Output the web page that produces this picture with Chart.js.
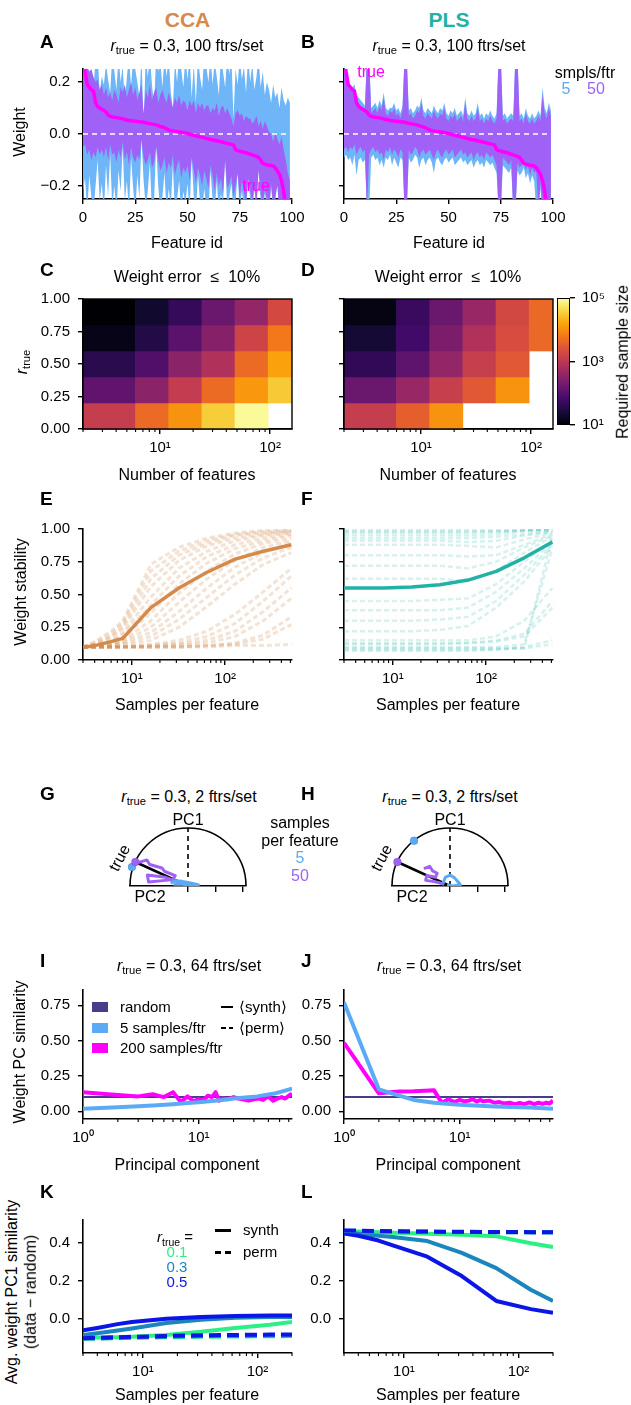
<!DOCTYPE html>
<html><head><meta charset="utf-8">
<script src="https://cdn.jsdelivr.net/npm/chart.js@4.4.1/dist/chart.umd.min.js"></script>
<style>
html,body{margin:0;padding:0;background:#fff;}
#fig{position:relative;width:631px;height:1405px;overflow:hidden;font-family:"Liberation Sans",Arial,Helvetica,sans-serif;color:#000;}
#fig .t{position:absolute;white-space:nowrap;line-height:1.15;}
#fig sub{font-size:0.7em;vertical-align:-0.3em;line-height:0;}
canvas{position:absolute;}
</style></head><body><div id="fig"></div>
<script>
// ---------------- DATA ----------------
const featureIds = Array.from({length:100}, (_, i) => i);
const trueWeights = [0.30,0.24,0.19,0.18,0.17,0.165,0.12,0.105,0.10,0.095,
0.09,0.085,0.072,0.068,0.066,0.064,0.063,0.062,0.060,0.058,
0.056,0.054,0.052,0.051,0.050,0.049,0.048,0.047,0.046,0.045,
0.043,0.041,0.039,0.038,0.037,0.035,0.032,0.029,0.027,0.024,
0.020,0.016,0.013,0.012,0.010,0.009,0.008,0.007,0.006,0.004,
0.002,0.000,-0.003,-0.005,-0.007,-0.009,-0.011,-0.013,-0.015,-0.017,
-0.019,-0.021,-0.022,-0.024,-0.026,-0.028,-0.030,-0.032,-0.034,-0.036,
-0.038,-0.040,-0.042,-0.060,-0.064,-0.066,-0.068,-0.070,-0.072,-0.075,
-0.078,-0.080,-0.083,-0.086,-0.090,-0.100,-0.113,-0.116,-0.118,-0.120,
-0.121,-0.123,-0.130,-0.142,-0.155,-0.18,-0.22,-0.28,-0.35,-0.42];
const blueHiA = [0.30,0.22,0.15,0.14,0.24,0.18,0.28,0.30,0.16,0.22,
0.19,0.27,0.21,0.16,0.30,0.24,0.17,0.30,0.20,0.26,
0.12,0.22,0.30,0.18,0.30,0.25,0.20,0.14,0.30,0.03,
0.30,0.22,0.30,0.19,0.11,0.30,0.24,0.28,0.18,0.30,
0.22,0.30,0.16,0.10,0.28,0.20,0.30,0.25,0.18,0.30,
0.21,0.30,0.14,0.27,0.12,0.30,0.22,0.17,0.30,0.26,
0.20,0.30,0.19,0.28,0.22,0.15,0.30,0.24,0.18,0.30,
0.23,0.30,0.06,0.25,0.19,0.30,0.21,0.26,0.16,0.30,
0.20,0.27,0.17,0.22,0.30,0.18,0.24,0.15,0.20,0.17,
0.12,0.19,0.14,0.16,0.10,0.18,0.13,0.11,0.14,0.12];
const blueLoA = [-0.22,-0.17,-0.30,-0.16,-0.24,-0.30,-0.20,-0.10,-0.26,-0.19,
-0.30,-0.12,-0.24,-0.08,-0.28,-0.20,-0.30,-0.14,-0.22,-0.05,
-0.26,-0.18,-0.30,-0.09,-0.21,-0.30,-0.16,-0.25,-0.02,-0.18,
-0.28,-0.22,-0.11,-0.30,-0.26,-0.04,-0.20,-0.30,-0.24,-0.15,
-0.30,-0.21,-0.28,-0.12,-0.30,-0.25,-0.18,-0.30,-0.22,-0.27,
-0.19,-0.30,-0.09,-0.24,-0.30,-0.16,-0.26,-0.30,-0.21,-0.28,
-0.30,-0.14,-0.25,-0.30,-0.18,-0.30,-0.23,-0.27,-0.08,-0.30,
-0.24,-0.19,-0.30,-0.26,-0.15,-0.30,-0.22,-0.28,-0.30,-0.17,
-0.25,-0.30,-0.21,-0.30,-0.10,-0.26,-0.30,-0.23,-0.28,-0.30,
-0.20,-0.30,-0.26,-0.18,-0.30,-0.24,-0.30,-0.30,-0.28,-0.30];
const purpHiA = [0.30,0.28,0.26,0.24,0.25,0.22,0.20,0.21,0.17,0.19,
0.15,0.18,0.14,0.16,0.13,0.17,0.15,0.12,0.18,0.16,
0.19,0.14,0.17,0.20,0.15,0.18,0.13,0.16,0.19,0.08,
0.17,0.14,0.19,0.13,0.16,0.18,0.12,0.15,0.17,0.14,
0.12,0.16,0.13,0.10,0.14,0.12,0.15,0.11,0.13,0.12,
0.09,0.13,0.11,0.13,0.08,0.12,0.10,0.12,0.09,0.11,
0.11,0.08,0.10,0.09,0.12,0.07,0.10,0.11,0.08,0.10,
0.08,0.06,0.03,0.08,0.09,0.07,0.08,0.05,0.07,0.06,
0.06,0.04,0.05,0.07,0.03,0.05,0.02,0.05,0.03,0.01,
0.00,-0.03,0.01,-0.02,-0.04,-0.01,-0.06,-0.10,-0.15,-0.18];
const purpLoA = [-0.05,-0.04,-0.08,-0.06,-0.10,-0.07,-0.09,-0.05,-0.08,-0.06,
-0.09,-0.05,-0.10,-0.04,-0.08,-0.07,-0.11,-0.06,-0.09,-0.03,
-0.10,-0.07,-0.12,-0.05,-0.09,-0.11,-0.08,-0.10,-0.02,-0.09,
-0.12,-0.10,-0.07,-0.13,-0.11,-0.05,-0.10,-0.14,-0.12,-0.09,
-0.15,-0.11,-0.13,-0.08,-0.16,-0.12,-0.10,-0.17,-0.13,-0.15,
-0.12,-0.18,-0.09,-0.14,-0.19,-0.13,-0.16,-0.20,-0.14,-0.17,
-0.21,-0.12,-0.16,-0.22,-0.15,-0.20,-0.17,-0.23,-0.10,-0.21,
-0.19,-0.16,-0.24,-0.20,-0.15,-0.25,-0.18,-0.22,-0.27,-0.17,
-0.22,-0.26,-0.20,-0.28,-0.14,-0.23,-0.27,-0.21,-0.25,-0.30,
-0.19,-0.28,-0.24,-0.20,-0.30,-0.26,-0.30,-0.35,-0.40,-0.45];
const blueHiB = [0.30,0.24,0.20,0.19,0.18,0.19,0.15,0.14,0.13,0.12,
0.11,0.30,0.30,0.10,0.11,0.12,0.10,0.13,0.11,0.16,
0.10,0.09,0.10,0.10,0.12,0.09,0.10,0.08,0.11,0.30,
0.30,0.09,0.10,0.08,0.09,0.11,0.10,0.14,0.09,0.08,
0.10,0.09,0.08,0.11,0.09,0.08,0.10,0.09,0.12,0.08,
0.07,0.09,0.08,0.10,0.07,0.08,0.09,0.07,0.14,0.08,
0.07,0.09,0.07,0.08,0.12,0.07,0.08,0.06,0.08,0.07,
0.09,0.07,0.06,0.08,0.30,0.30,0.07,0.08,0.06,0.07,
0.08,0.07,0.30,0.30,0.07,0.08,0.06,0.10,0.07,0.06,
0.08,0.06,0.07,0.09,0.07,0.18,0.10,0.08,0.12,0.09];
const blueLoB = [-0.09,-0.08,-0.10,-0.09,-0.12,-0.08,-0.16,-0.10,-0.09,-0.11,
-0.10,-0.30,-0.30,-0.09,-0.08,-0.10,-0.09,-0.12,-0.10,-0.13,
-0.09,-0.10,-0.08,-0.12,-0.09,-0.11,-0.13,-0.09,-0.10,-0.30,
-0.30,-0.09,-0.11,-0.10,-0.08,-0.09,-0.13,-0.10,-0.09,-0.12,
-0.10,-0.09,-0.11,-0.15,-0.10,-0.09,-0.11,-0.12,-0.10,-0.09,
-0.11,-0.10,-0.09,-0.12,-0.11,-0.10,-0.09,-0.11,-0.10,-0.12,
-0.11,-0.10,-0.13,-0.11,-0.10,-0.12,-0.11,-0.13,-0.10,-0.11,
-0.12,-0.11,-0.13,-0.15,-0.30,-0.30,-0.12,-0.13,-0.14,-0.15,
-0.13,-0.30,-0.30,-0.14,-0.16,-0.15,-0.13,-0.17,-0.15,-0.19,
-0.16,-0.18,-0.30,-0.30,-0.21,-0.30,-0.30,-0.35,-0.40,-0.45];
const purpHiB = [0.30,0.22,0.18,0.17,0.16,0.17,0.13,0.12,0.11,0.10,
0.09,0.30,0.30,0.08,0.09,0.10,0.08,0.11,0.09,0.14,
0.08,0.07,0.09,0.08,0.10,0.07,0.08,0.06,0.09,0.30,
0.30,0.07,0.08,0.06,0.07,0.09,0.08,0.12,0.07,0.06,
0.08,0.07,0.06,0.09,0.07,0.06,0.08,0.07,0.10,0.06,
0.05,0.07,0.06,0.08,0.05,0.06,0.07,0.05,0.12,0.06,
0.05,0.07,0.05,0.06,0.10,0.05,0.06,0.04,0.06,0.05,
0.07,0.05,0.04,0.06,0.30,0.30,0.05,0.06,0.04,0.05,
0.06,0.05,0.30,0.30,0.05,0.06,0.04,0.08,0.05,0.04,
0.06,0.04,0.05,0.07,0.05,0.15,0.08,0.06,0.10,0.07];
const purpLoB = [-0.06,-0.05,-0.07,-0.05,-0.06,-0.04,-0.08,-0.06,-0.05,-0.07,
-0.06,-0.30,-0.08,-0.06,-0.05,-0.07,-0.06,-0.08,-0.07,-0.10,
-0.06,-0.07,-0.05,-0.08,-0.06,-0.07,-0.09,-0.06,-0.07,-0.30,
-0.30,-0.06,-0.08,-0.07,-0.05,-0.06,-0.09,-0.07,-0.06,-0.08,
-0.07,-0.06,-0.08,-0.10,-0.07,-0.06,-0.08,-0.09,-0.07,-0.06,
-0.08,-0.07,-0.06,-0.09,-0.08,-0.07,-0.06,-0.08,-0.07,-0.09,
-0.08,-0.07,-0.10,-0.08,-0.07,-0.09,-0.08,-0.10,-0.07,-0.08,
-0.09,-0.08,-0.10,-0.12,-0.30,-0.30,-0.09,-0.10,-0.11,-0.12,
-0.10,-0.30,-0.30,-0.11,-0.13,-0.12,-0.10,-0.14,-0.12,-0.16,
-0.13,-0.15,-0.14,-0.30,-0.18,-0.30,-0.30,-0.35,-0.40,-0.45];

// heatmaps (rows bottom->top = r_true 0.1 ... 0.9), required sample size
const rTrueRows = [0.1, 0.3, 0.5, 0.7, 0.9];
const featEdges = [2, 6, 12, 24, 48, 96, 158];
const reqCCA = [
  [1300, 4500, 11000, 33000, 90000, null],
  [130, 330, 1200, 4600, 12000, 31000],
  [38, 91, 330, 760, 4600, 14500],
  [14, 33, 110, 300, 1600, 6300],
  [10, 21, 48, 158, 400, 1900]];
const reqPLS = [
  [1300, 3500, 11000, null, null, null],
  [158, 440, 1330, 3000, 11000, null],
  [44, 120, 400, 1330, 3000, null],
  [24, 63, 230, 760, 2100, 4400],
  [13, 52, 158, 440, 1800, 4400]];

// weight stability
const sppX = [3, 4, 6, 8, 16, 32, 64, 128, 256, 512];
const stabCCA = [0.095, 0.11, 0.14, 0.165, 0.40, 0.55, 0.67, 0.77, 0.83, 0.88];
const stabPLS = [0.55, 0.55, 0.55, 0.55, 0.557, 0.575, 0.61, 0.676, 0.78, 0.90];
const stabCCAruns = [
[.10,.14,.22,.30,.73,.86,.93,.97,.99,.99],
[.10,.13,.20,.28,.68,.83,.91,.96,.98,.99],
[.10,.12,.18,.26,.62,.80,.89,.95,.97,.98],
[.10,.12,.17,.24,.56,.76,.87,.93,.96,.98],
[.10,.11,.15,.21,.48,.70,.83,.91,.95,.97],
[.10,.11,.14,.19,.42,.64,.79,.88,.93,.96],
[.10,.11,.13,.17,.36,.58,.74,.85,.91,.95],
[.10,.10,.12,.15,.30,.51,.68,.81,.89,.93],
[.10,.10,.12,.14,.25,.44,.62,.76,.86,.91],
[.10,.10,.11,.13,.21,.37,.55,.71,.82,.89],
[.10,.10,.11,.12,.18,.31,.48,.65,.78,.86],
[.10,.10,.10,.11,.15,.25,.41,.58,.73,.82],
[.10,.10,.10,.10,.12,.15,.22,.35,.52,.70],
[.10,.10,.10,.10,.11,.13,.18,.28,.45,.64],
[.10,.10,.10,.10,.11,.12,.15,.22,.37,.55],
[.10,.10,.10,.10,.10,.11,.13,.18,.30,.47],
[.10,.10,.10,.10,.10,.10,.11,.13,.19,.33],
[.10,.10,.10,.10,.10,.10,.11,.12,.16,.27],
[.10,.10,.10,.10,.10,.10,.10,.11,.11,.12]];
const stabPLSruns = [
[.99,.99,.99,.99,.99,.99,.99,.99,.99,1.0],
[.98,.98,.98,.98,.98,.98,.98,.98,.99,1.0],
[.97,.97,.97,.97,.97,.97,.97,.98,.99,.99],
[.95,.95,.95,.95,.95,.95,.95,.96,.98,.99],
[.93,.93,.93,.93,.93,.93,.93,.94,.96,.98],
[.91,.91,.91,.91,.91,.91,.90,.91,.95,.98],
[.88,.88,.88,.88,.88,.88,.87,.86,.92,.97],
[.80,.80,.80,.80,.80,.80,.79,.80,.88,.96],
[.72,.72,.72,.72,.72,.72,.70,.75,.86,.95],
[.62,.62,.62,.62,.62,.62,.60,.68,.82,.94],
[.45,.45,.45,.45,.45,.46,.47,.58,.75,.92],
[.38,.38,.38,.38,.38,.38,.40,.52,.70,.90],
[.30,.30,.30,.30,.30,.31,.33,.45,.65,.88],
[.22,.22,.22,.22,.22,.23,.26,.40,.60,.86],
[.15,.15,.15,.15,.15,.15,.15,.18,.30,.55],
[.13,.13,.13,.13,.13,.13,.13,.14,.18,.40],
[.12,.12,.12,.12,.12,.12,.13,.15,.20,.45],
[.10,.10,.10,.10,.10,.10,.10,.10,.12,.85],
[.09,.09,.09,.09,.09,.09,.09,.09,.09,.95],
[.08,.08,.08,.08,.08,.08,.08,.08,.10,.15],
[.07,.07,.07,.07,.07,.07,.07,.08,.09,.12]];

// 2-feature semicircle (unit circle coords: x = PC2 side negative, y = PC1)
const trueDirG = [-0.907, 0.414];
const start5G = [-0.966, 0.328];
const path50G = [[-0.90,0.39],[-0.71,0.45],[-0.66,0.37],[-0.45,0.31],[-0.40,0.25],[-0.22,0.18],[-0.26,0.11],[-0.68,0.07],[-0.70,0.19],[-0.39,0.15],[-0.16,0.07],[-0.02,0.02]];
const path5G = [[-0.30,0.05],[-0.22,0.09],[-0.10,0.08],[0.00,0.06],[0.10,0.04],[0.18,0.02],[0.06,0.01],[-0.10,0.03],[-0.25,0.03]];
const trueDirH = [-0.907, 0.414];
const start5H = [-0.62, 0.78];
const path50H = [[-0.45,0.30],[-0.35,0.34],[-0.30,0.26],[-0.22,0.22],[-0.25,0.15],[-0.40,0.18],[-0.42,0.10],[-0.30,0.08],[-0.20,0.06],[-0.10,0.03]];
const path5H = [[-0.12,0.05],[-0.08,0.15],[0.00,0.19],[0.08,0.14],[0.14,0.07],[0.18,0.02],[0.05,0.00],[-0.05,0.02]];

// PC similarity
const randomLevel = 0.1;
const pcRange = [1, 64];
const iMagX = [1,2,3,4,5,6,7,8,9,10,11,12,13,14,15,16,18,20,22,24,27,30,33,36,40,44,48,52,56,60,64];
const iMag = [0.135,0.115,0.105,0.12,0.10,0.135,0.065,0.105,0.07,0.085,0.075,0.11,0.10,0.135,0.075,0.09,0.085,0.10,0.09,0.085,0.075,0.085,0.09,0.08,0.105,0.075,0.09,0.10,0.09,0.11,0.125];
const iBlueX = [1,2,3,4,6,8,10,16,20,32,45,64];
const iBlue = [0.018,0.028,0.035,0.04,0.05,0.058,0.064,0.08,0.09,0.105,0.125,0.16];
const jBlueX = [1,2,3,4,6,10,20,40,64];
const jBlue = [0.77,0.155,0.11,0.08,0.06,0.045,0.034,0.027,0.018];
const jMagX = [1,2,3,4,5,6,7,8,9,10,11,12,13,14,15,16,18,20,22,24,27,30,33,36,40,44,48,52,56,60,64];
const jMag = [0.484,0.127,0.139,0.141,0.145,0.148,0.06,0.085,0.065,0.08,0.07,0.075,0.085,0.068,0.08,0.07,0.075,0.06,0.065,0.055,0.06,0.05,0.058,0.05,0.062,0.05,0.06,0.052,0.06,0.055,0.075];

// PC1 similarity (data - random)
const kX = [3, 4, 6, 8, 16, 32, 64, 128, 200];
const kSynth01 = [-0.099,-0.099,-0.097,-0.095,-0.085,-0.068,-0.048,-0.031,-0.017];
const kSynth03 = [-0.085,-0.076,-0.062,-0.051,-0.022,-0.005,0.005,0.009,0.010];
const kSynth05 = [-0.061,-0.048,-0.028,-0.017,0.000,0.009,0.015,0.017,0.017];
const kPerm01 = [-0.105,-0.104,-0.102,-0.100,-0.097,-0.095,-0.093,-0.092,-0.091];
const kPerm03 = [-0.104,-0.103,-0.100,-0.098,-0.094,-0.091,-0.089,-0.088,-0.087];
const kPerm05 = [-0.102,-0.100,-0.097,-0.095,-0.090,-0.087,-0.085,-0.083,-0.082];
const lSynth01 = [0.462,0.460,0.456,0.453,0.447,0.442,0.434,0.398,0.378];
const lSynth03 = [0.455,0.448,0.437,0.430,0.409,0.347,0.267,0.153,0.094];
const lSynth05 = [0.449,0.437,0.412,0.386,0.327,0.225,0.094,0.051,0.032];
const lPerm01 = [0.462,0.461,0.460,0.459,0.458,0.457,0.456,0.455,0.455];
const lPerm03 = [0.463,0.462,0.461,0.460,0.458,0.457,0.456,0.455,0.455];
const lPerm05 = [0.465,0.464,0.462,0.461,0.459,0.458,0.457,0.456,0.456];

// ---------------- STYLE ----------------
const C_CCA = '#d38a4c', C_PLS = '#22b2a5';
const C_B5 = '#6fb6f8', C_P50 = '#a062f6', C_TRUE = '#ff00ff';
const C_BL = '#5aaaf5', C_RND = '#483d8b';
const C_R1 = '#2cef86', C_R3 = '#1b86bd', C_R5 = '#0b15e6';
const FONT = '"Liberation Sans", Arial, Helvetica, sans-serif';
const INFERNO = ['#000004','#160b39','#420a68','#6a176e','#932667','#bc3754','#dd513a','#f37819','#fca50a','#f6d746','#fcffa4'];
function hex(h){return [1,3,5].map(i=>parseInt(h.substr(i,2),16));}
function inferno(t){t=Math.max(0,Math.min(1,t));const p=t*10,i=Math.min(9,Math.floor(p)),f=p-i;const a=hex(INFERNO[i]),b=hex(INFERNO[i+1]);return 'rgb('+a.map((v,k)=>Math.round(v+(b[k]-v)*f)).join(',')+')';}

Chart.defaults.font.family = FONT;
Chart.defaults.font.size = 15;
Chart.defaults.color = '#000';
Chart.defaults.animation = false;
Chart.defaults.plugins.legend.display = false;
Chart.defaults.plugins.tooltip.enabled = false;
Chart.defaults.elements.point.radius = 0;
Chart.defaults.elements.line.tension = 0;

const fig = document.getElementById('fig');
const decoMap = new Map();
Chart.register({
  id: 'deco',
  beforeDatasetsDraw(chart){
    const d = decoMap.get(chart.canvas); if(!d || !d.semi) return;
    const ctx = chart.ctx, sx = chart.scales.x, sy = chart.scales.y;
    const cx = sx.getPixelForValue(0), cy = sy.getPixelForValue(0);
    const rx = sx.getPixelForValue(1) - cx, ry = cy - sy.getPixelForValue(1);
    ctx.save(); ctx.strokeStyle = '#000'; ctx.lineWidth = 1.6;
    ctx.beginPath(); ctx.ellipse(cx, cy, rx, ry, 0, Math.PI, 2*Math.PI); ctx.stroke(); ctx.restore();
  },
  afterDraw(chart){
    const d = decoMap.get(chart.canvas); if(!d) return;
    const ctx = chart.ctx, a = chart.chartArea;
    ctx.save(); ctx.strokeStyle = '#000';
    if (d.frame){ ctx.lineWidth = 1.4; ctx.strokeRect(a.left, a.top, a.right-a.left, a.bottom-a.top); }
    if (d.minorX){ const s = chart.scales.x; ctx.lineWidth = 1.1;
      d.minorX.forEach(v=>{ const p = s.getPixelForValue(v); if(p < a.left-1 || p > a.right+1) return;
        ctx.beginPath(); ctx.moveTo(p, a.bottom); ctx.lineTo(p, a.bottom+3); ctx.stroke(); }); }
    ctx.restore();
  }
});

function makeChart(box, pads, cfg, deco){
  const c = document.createElement('canvas');
  const w = box.r - box.l + pads.l + pads.r, h = box.b - box.t + pads.t + pads.b;
  c.width = w; c.height = h;
  c.style.left = (box.l - pads.l) + 'px'; c.style.top = (box.t - pads.t) + 'px';
  c.style.width = w + 'px'; c.style.height = h + 'px';
  fig.appendChild(c);
  if (deco) decoMap.set(c, deco);
  cfg.options = cfg.options || {};
  Object.assign(cfg.options, {responsive:false, maintainAspectRatio:false, devicePixelRatio:1,
    layout:{padding:{top:pads.t, right: pads.rightAxis?0:pads.r, left: pads.leftAxis===false?pads.l:0, bottom: pads.bottomAxis===false?pads.b:0}}});
  return new Chart(c, cfg);
}
function scale(o){
  return {
    type: o.type || 'linear', position: o.pos, min: o.min, max: o.max, display: o.display !== false,
    offset: false, reverse: false,
    border: {display: true, color: '#000', width: 1.6},
    grid: {display: true, drawOnChartArea: false, drawTicks: true, tickLength: o.tickLen || 5, color: '#000', lineWidth: 1.4, offset: false},
    ticks: {display: true, color: '#000', font: {size: 15}, padding: o.pad || 4, maxRotation: 0, minRotation: 0, autoSkip: false,
      callback: (v) => o.fmt ? o.fmt(v) : ''},
    afterBuildTicks: s => { s.ticks = o.ticks.map(v => ({value: v})); },
    afterFit: s => { if (o.axis === 'x') s.height = o.size; else s.width = o.size; }
  };
}
const SUP = {1:'10\u2070', 10:'10\u00b9', 100:'10\u00b2', 1000:'10\u00b3', 100000:'10\u2075'};
const fmtPow = v => SUP[Math.round(v)] || '';
const fmtMinus = d => v => (v < 0 ? '\u2212' : '') + Math.abs(v).toFixed(d);
const xy = (xs, ys) => xs.map((x, i) => ({x, y: ys[i]}));
const pairs = p => p.map(q => ({x: q[0], y: q[1]}));
function line(data, color, width, dash, extra){
  return Object.assign({type:'line', data, borderColor: color, borderWidth: width, borderDash: dash || [], fill: false, pointRadius: 0, clip: 0, borderJoinStyle:'round'}, extra || {});
}
const PAD = {l:60, t:12, r:24, b:50};
const minorLog = [2,3,4,5,6,7,8,9,20,30,40,50,60,70,80,90,200,300,400,500];

// ---------------- TEXT ----------------
function txt(html, x, y, o){
  o = o || {};
  const d = document.createElement('div');
  d.className = 't'; d.innerHTML = html;
  const tx = o.align === 'left' ? '0' : (o.align === 'right' ? '-100%' : '-50%');
  d.style.cssText += `left:${x}px;top:${y}px;font-size:${o.size||16}px;color:${o.color||'#000'};font-weight:${o.bold?'bold':'normal'};transform:translate(${tx},-50%)${o.rot?` rotate(${o.rot}deg)`:''};text-align:center;`;
  fig.appendChild(d);
}
function hbar(x, y, w, thick, color){
  const d = document.createElement('div');
  d.style.cssText = `position:absolute;left:${x}px;top:${y - thick/2}px;width:${w}px;height:${thick}px;background:${color};`;
  fig.appendChild(d);
}
const R = '<i>r</i><sub>true</sub>';

// ---------------- PANELS A/B ----------------
function bandChart(box, hiB, loB, hiP, loP, showYLabels){
  return makeChart(box, PAD, {
    type: 'line',
    data: {datasets: [
      line(xy(featureIds, trueWeights), C_TRUE, 3.5),
      line([{x:0,y:0},{x:100,y:0}], '#ffffff', 1.6, [5,4]),
      line(xy(featureIds, hiP), 'rgba(0,0,0,0)', 0, [], {fill:'+1', backgroundColor: C_P50, borderWidth: 1}),
      line(xy(featureIds, loP), 'rgba(0,0,0,0)', 0, [], {borderWidth: 1}),
      line(xy(featureIds, hiB), 'rgba(0,0,0,0)', 0, [], {fill:'+1', backgroundColor: C_B5, borderWidth: 1}),
      line(xy(featureIds, loB), 'rgba(0,0,0,0)', 0, [], {borderWidth: 1})
    ]},
    options: {scales: {
      x: scale({axis:'x', min:0, max:100, ticks:[0,25,50,75,100], fmt: v => String(v), size: PAD.b, pad: 5}),
      y: scale({axis:'y', min:-0.25, max:0.25, ticks:[-0.2,0,0.2], fmt: showYLabels ? fmtMinus(1) : null, size: PAD.l, pad: 8})
    }}
  });
}
bandChart({l:83,t:64,r:292,b:199}, blueHiA, blueLoA, purpHiA, purpLoA, true);
bandChart({l:344,t:64,r:553,b:199}, blueHiB, blueLoB, purpHiB, purpLoB, false);

// ---------------- PANELS C/D ----------------
function heatChart(box, mat, showYLabels){
  const pts = [], cols = [];
  mat.forEach((row, r) => row.forEach((v, c) => {
    if (v == null) return;
    pts.push({y: rTrueRows[r], x: [featEdges[c], featEdges[c+1]]});
    cols.push(inferno((Math.log10(v) - 1) / 4));
  }));
  return makeChart(box, PAD, {
    type: 'bar',
    data: {datasets: [{data: pts, backgroundColor: cols, borderWidth: 0, categoryPercentage: 1, barPercentage: 1, grouped: false}]},
    options: {indexAxis: 'y', scales: {
      x: scale({axis:'x', type:'logarithmic', min:2, max:158, ticks:[10,100], fmt: fmtPow, size: PAD.b, pad: 5}),
      y: scale({axis:'y', min:0, max:1, ticks:[0,0.25,0.5,0.75,1], fmt: showYLabels ? fmtMinus(2) : null, size: PAD.l, pad: 8})
    }}
  }, {frame: true, minorX: minorLog});
}
heatChart({l:83,t:294,r:292,b:429}, reqCCA, true);
heatChart({l:344,t:294,r:553,b:429}, reqPLS, false);

// colorbar
makeChart({l:557,t:294,r:570,b:429}, {l:4, t:12, r:50, b:12, rightAxis:true, leftAxis:false, bottomAxis:false}, {
  type: 'bar',
  data: {labels: [''], datasets: [{data: [[10, 100000]], borderColor: '#000', borderWidth: 1.3, borderSkipped: false,
    categoryPercentage: 1, barPercentage: 1,
    backgroundColor: (ctx) => { const a = ctx.chart.chartArea; if (!a) return '#000';
      const g = ctx.chart.ctx.createLinearGradient(0, a.bottom, 0, a.top);
      INFERNO.forEach((c, i) => g.addColorStop(i / (INFERNO.length - 1), c)); return g; }}]},
  options: {scales: {
    x: {display: false},
    y: Object.assign(scale({axis:'y', type:'logarithmic', min:10, max:100000, ticks:[10,1000,100000], fmt: fmtPow, size: 50, pad: 7, pos:'right'}), {border:{display:false}})
  }}
});

// ---------------- PANELS E/F ----------------
function stabChart(box, runs, main, color, faint, fw, showYLabels){
  const ds = [line(xy(sppX, main), color, 3.5)];
  runs.forEach(r => ds.push(line(xy(sppX, r), faint, fw, [5,3])));
  return makeChart(box, PAD, {
    type: 'line', data: {datasets: ds},
    options: {scales: {
      x: scale({axis:'x', type:'logarithmic', min:3, max:520, ticks:[10,100], fmt: fmtPow, size: PAD.b, pad: 5}),
      y: scale({axis:'y', min:0, max:1, ticks:[0,0.25,0.5,0.75,1], fmt: showYLabels ? fmtMinus(2) : null, size: PAD.l, pad: 8})
    }}
  }, {minorX: minorLog});
}
stabChart({l:83,t:524,r:292,b:660}, stabCCAruns, stabCCA, C_CCA, 'rgba(211,138,76,0.24)', 3, true);
stabChart({l:344,t:524,r:553,b:660}, stabPLSruns, stabPLS, C_PLS, 'rgba(34,178,165,0.18)', 2.5, false);

// ---------------- PANELS G/H ----------------
function semiChart(box, trueDir, start5, path50, path5){
  return makeChart(box, {l:20, t:8, r:20, b:20, leftAxis:false}, {
    type: 'scatter',
    data: {datasets: [
      {data: pairs([trueDir]), backgroundColor: C_P50, pointRadius: 4, showLine: false, clip: false},
      {data: pairs([start5]), backgroundColor: C_BL, pointRadius: 4, showLine: false, clip: false},
      line(pairs(path5), C_BL, 3),
      line(pairs(path50), C_P50, 3),
      line(pairs([[0,0], trueDir]), '#000', 2.5),
      line(pairs([[0,0],[0,1]]), '#000', 1.6, [5,4])
    ]},
    options: {scales: {
      x: scale({axis:'x', min:-1, max:1, ticks:[0,0.47,0.94], fmt:null, size:20, tickLen:6}),
      y: {display:false, min:0, max:1}
    }}
  }, {semi: true});
}
semiChart({l:130,t:828,r:246,b:886}, trueDirG, start5G, path50G, path5G);
semiChart({l:392,t:828,r:508,b:886}, trueDirH, start5H, path50H, path5H);

// ---------------- PANELS I/J ----------------
function pcChart(box, blueX, blue, magX, mag){
  return makeChart(box, PAD, {
    type: 'line',
    data: {datasets: [
      line(xy(blueX, blue), C_BL, 4),
      line(xy(magX, mag), C_TRUE, 4),
      line(xy(pcRange, [randomLevel, randomLevel]), C_RND, 2)
    ]},
    options: {scales: {
      x: scale({axis:'x', type:'logarithmic', min:1, max:64, ticks:[1,10], fmt: fmtPow, size: PAD.b, pad: 5}),
      y: scale({axis:'y', min:-0.055, max:0.858, ticks:[0,0.25,0.5,0.75], fmt: fmtMinus(2), size: PAD.l, pad: 8})
    }}
  }, {minorX: minorLog});
}
pcChart({l:83,t:985,r:292,b:1119}, iBlueX, iBlue, iMagX, iMag);
pcChart({l:344,t:985,r:553,b:1119}, jBlueX, jBlue, jMagX, jMag);

// ---------------- PANELS K/L ----------------
function pc1Chart(box, s1, s3, s5, p1, p3, p5){
  return makeChart(box, PAD, {
    type: 'line',
    data: {datasets: [
      line(xy(kX, p5), C_R5, 4, [12,6]),
      line(xy(kX, p3), C_R3, 4, [12,6]),
      line(xy(kX, p1), C_R1, 4, [12,6]),
      line(xy(kX, s5), C_R5, 4),
      line(xy(kX, s3), C_R3, 4),
      line(xy(kX, s1), C_R1, 4)
    ]},
    options: {scales: {
      x: scale({axis:'x', type:'logarithmic', min:3, max:200, ticks:[10,100], fmt: fmtPow, size: PAD.b, pad: 5}),
      y: scale({axis:'y', min:-0.18, max:0.52, ticks:[0,0.2,0.4], fmt: fmtMinus(1), size: PAD.l, pad: 8})
    }}
  }, {minorX: minorLog});
}
pc1Chart({l:83,t:1215,r:292,b:1353}, kSynth01, kSynth03, kSynth05, kPerm01, kPerm03, kPerm05);
pc1Chart({l:344,t:1215,r:553,b:1353}, lSynth01, lSynth03, lSynth05, lPerm01, lPerm03, lPerm05);

// ---------------- TEXT LABELS ----------------
txt('CCA', 187.5, 20, {size:21, bold:true, color:C_CCA});
txt('PLS', 449, 20, {size:21, bold:true, color:C_PLS});
[['A',42],['C',270],['E',499],['G',794],['I',961],['K',1192]].forEach(([s,y]) => txt(s, 40, y, {size:19, bold:true, align:'left'}));
[['B',42],['D',270],['F',499],['H',794],['J',961],['L',1192]].forEach(([s,y]) => txt(s, 301, y, {size:19, bold:true, align:'left'}));
txt(R + ' = 0.3, 100 ftrs/set', 187, 46);
txt(R + ' = 0.3, 100 ftrs/set', 449, 46);
txt('Weight', 20, 132, {rot:-90});
txt('Feature id', 187, 243);
txt('Feature id', 449, 243);
txt('true', 256, 186, {color:C_TRUE});
txt('true', 371, 72, {color:C_TRUE});
txt('smpls/ftr', 585, 73);
txt('5', 566, 89, {color:C_BL});
txt('50', 596, 89, {color:C_P50});

txt('Weight error&nbsp; \u2264 &nbsp;10%', 187, 277);
txt('Weight error&nbsp; \u2264 &nbsp;10%', 448, 277);
txt(R, 22, 362, {rot:-90});
txt('Number of features', 187, 475);
txt('Number of features', 448, 475);
txt('Required sample size', 623, 362, {rot:-90});

txt('Weight stability', 21, 592, {rot:-90});
txt('Samples per feature', 187, 705);
txt('Samples per feature', 448, 705);

txt(R + ' = 0.3, 2 ftrs/set', 189, 797);
txt(R + ' = 0.3, 2 ftrs/set', 450, 797);
txt('PC1', 188, 820);
txt('PC1', 450, 820);
txt('PC2', 150, 897);
txt('PC2', 412, 897);
txt('true', 120, 858, {rot:-62});
txt('true', 382, 858, {rot:-62});
txt('samples', 300, 823);
txt('per feature', 300, 841);
txt('5', 300, 858, {color:C_BL});
txt('50', 300, 876, {color:C_P50});

txt(R + ' = 0.3, 64 ftrs/set', 189, 966);
txt(R + ' = 0.3, 64 ftrs/set', 449, 966);
txt('Weight PC similarity', 20, 1052, {rot:-90});
txt('Principal component', 187, 1165);
txt('Principal component', 448, 1165);
// legend I
[[C_RND,'random',1007],[C_BL,'5 samples/ftr',1028],[C_TRUE,'200 samples/ftr',1048]].forEach(([c,s,y]) => {
  const d = document.createElement('div');
  d.style.cssText = `position:absolute;left:92px;top:${y-5}px;width:16px;height:10px;background:${c};`;
  fig.appendChild(d);
  txt(s, 120, y, {size:15, align:'left'});
});
hbar(221, 1007, 12, 2.5, '#000');
txt('\u27e8synth\u27e9', 239, 1007, {size:15, align:'left'});
hbar(221, 1028, 4.5, 2.5, '#000'); hbar(228.5, 1028, 4.5, 2.5, '#000');
txt('\u27e8perm\u27e9', 239, 1028, {size:15, align:'left'});

txt('Avg. weight PC1 similarity', 12, 1292, {rot:-90});
txt('(data \u2212 random)', 31, 1292, {rot:-90});
txt('Samples per feature', 187, 1395);
txt('Samples per feature', 448, 1395);
txt(R + ' =', 175, 1237, {size:15});
txt('0.1', 177, 1252, {size:15, color:C_R1});
txt('0.3', 177, 1267, {size:15, color:C_R3});
txt('0.5', 177, 1282, {size:15, color:C_R5});
hbar(215, 1230, 16, 3, '#000');
txt('synth', 243, 1230, {size:15, align:'left'});
hbar(215, 1252, 6, 3, '#000'); hbar(225, 1252, 6, 3, '#000');
txt('perm', 243, 1252, {size:15, align:'left'});
</script></body></html>
